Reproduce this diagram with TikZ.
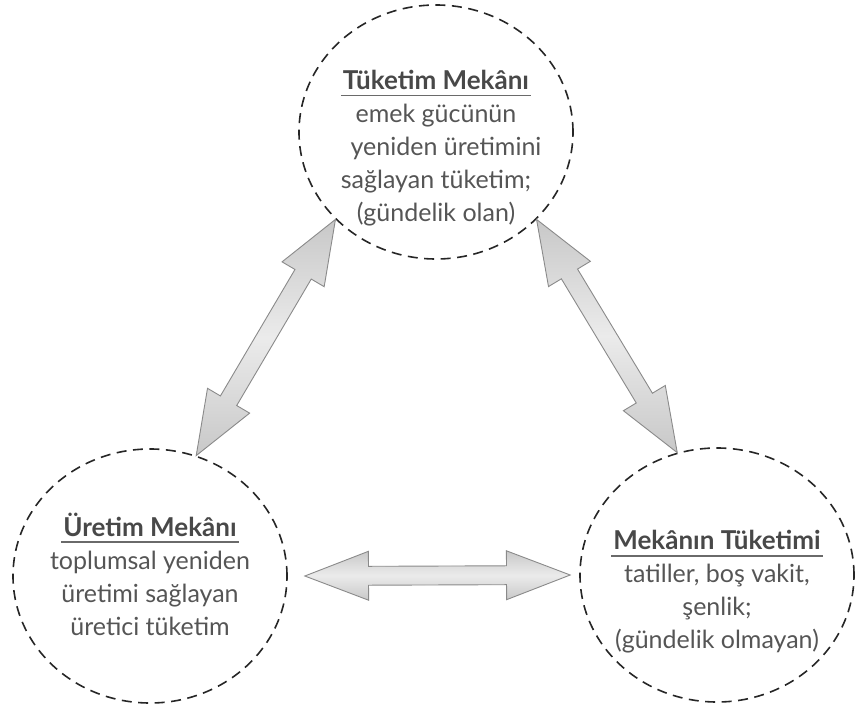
\documentclass[tikz,border=0pt]{standalone}
\usepackage{fontspec}
\setmainfont{Lato}
\usepackage{xcolor}
\usepackage{tikz}
\usetikzlibrary{
  positioning,
  calc,
  shapes.geometric,
  shapes.arrows
}

\definecolor{txtgray}{HTML}{555555}
\definecolor{ttlgray}{HTML}{484848}
\definecolor{ulgray}{HTML}{6A6A6A}
\definecolor{arrline}{HTML}{8A8A8A}
\definecolor{arrlight}{HTML}{EBEBEB}
\definecolor{arrdark}{HTML}{C8C8C8}

% underlined heading
\newcommand{\ttl}[1]{{\color{ttlgray}\fontsize{26}{33}\selectfont\bfseries
  \setbox0\hbox{#1}%
  \rlap{\hspace*{-2pt}\color{ulgray}\rule[-7pt]{\dimexpr\wd0+4pt}{1.8pt}}\box0}}
% fat double arrow between two points
\newcommand{\linkarrow}[2]{%
  \path let \p1=(#1), \p2=(#2),
    \n1={atan2(\y2-\y1,\x2-\x1)}, \n2={veclen(\x2-\x1,\y2-\y1)} in
    node[fatarr, rotate=\n1, minimum height=\n2] at ($(#1)!0.5!(#2)$) {};}

\begin{document}
\begin{tikzpicture}[x=1pt, y=1pt,
    ring/.style={ellipse, draw=black!85, line width=1.6pt,
      dash pattern=on 10pt off 6.5pt, minimum width=274pt, minimum height=254pt},
    blurb/.style={align=center, text=txtgray, font=\fontsize{25}{33}\selectfont},
    fatarr/.style={double arrow, draw=arrline, line width=0.9pt, inner sep=9pt,
      double arrow head extend=15pt, double arrow head indent=0pt,
      double arrow tip angle=42, top color=arrdark, bottom color=arrdark,
      middle color=arrlight}]
  \useasboundingbox (0,0) rectangle (856,713);

  % Circles
  \node[ring] (tk) at (436,581) {};
  \node[ring] (lf) at (150,137) {};
  \node[ring] (rt) at (717,138) {};

  % Texts
  \node[blurb] (tktext) at ([yshift=-16pt]tk.center)
    {\ttl{Tüketim Mekânı}\\ emek gücünün\\ \hspace*{20pt}yeniden üretimini\\
     sağlayan tüketim;\\ (gündelik olan)};
  \node[blurb] (lftext) at ([yshift=2pt]lf.center)
    {\ttl{Üretim Mekânı}\\ toplumsal yeniden\\ üretimi sağlayan\\ üretici tüketim};
  \node[blurb] (rttext) at ([yshift=-17pt]rt.center)
    {\ttl{Mekânın Tüketimi}\\ tatiller, boş vakit,\\ şenlik;\\ (gündelik olmayan)};

  % Arrows
  \coordinate (hl) at ([xshift=17pt]lf.east);
  \coordinate (hr) at ([xshift=-9pt]rt.west);
  \linkarrow{tk.221}{lf.69}
  \linkarrow{tk.319}{rt.108}
  \linkarrow{hl}{hr}
\end{tikzpicture}
\end{document}
